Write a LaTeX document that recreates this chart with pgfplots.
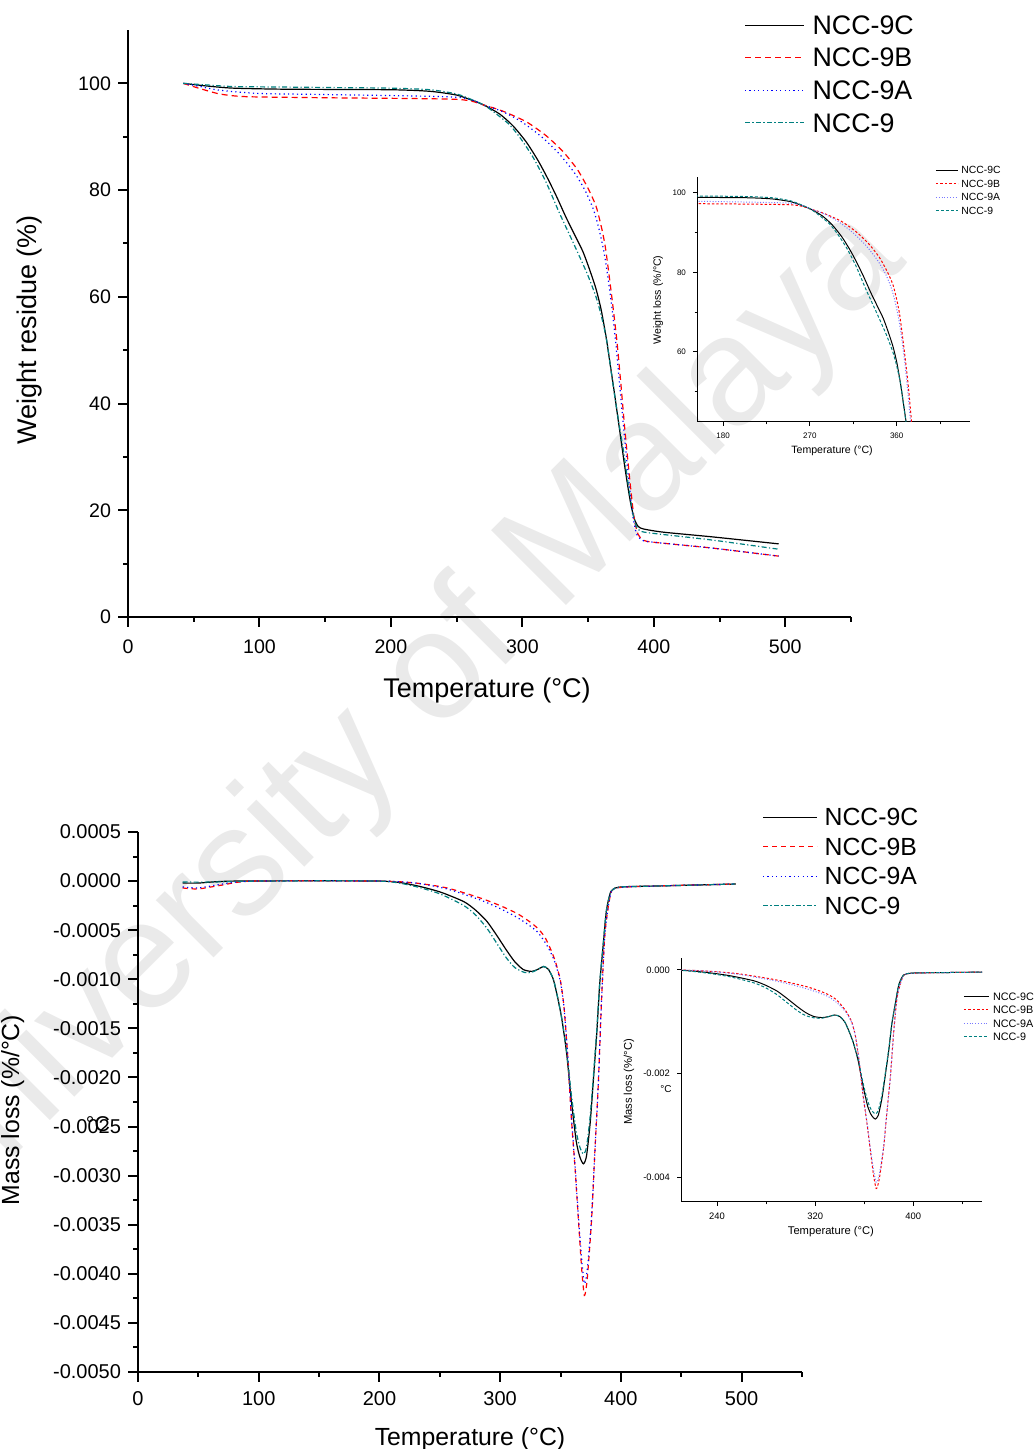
\documentclass[border=0pt]{standalone}
\usepackage{fontspec}
\setmainfont{Liberation Sans}
\usepackage{pgfplots}
\usepackage{pgfplotstable}
\pgfplotsset{compat=1.18}
\definecolor{ncteal}{RGB}{0,128,128}
\definecolor{ncred}{RGB}{255,0,0}
\definecolor{ncblue}{RGB}{0,0,255}
\definecolor{nclblue}{RGB}{120,120,255}
\definecolor{wm}{RGB}{234,234,234}

\pgfplotstableread{
x y
42 100
60 99.5
80 99.1
120 98.9
200 98.8
230 98.5
250 97.8
262 96.8
271 95.9
283 94.2
293 92.0
303 89.0
312 85.5
319 82.3
326 78.8
333 75.0
340 71.5
346 68.5
351 65.2
356 61.5
360 57.5
364 52.0
367 47.0
370 42.0
374 35.0
378 28.0
382 21.8
385 18.5
388 17.0
392 16.5
407 15.9
445 15.0
495 13.7
}\tgaC
\pgfplotstableread{
x y
42 100
55 99.0
70 98.0
90 97.5
150 97.3
250 97.0
271 95.9
285 94.8
303 92.8
318 90.2
331 87.2
342 83.8
350 80.3
356 77.0
360 73.2
363 69.5
366 64.0
369 58.0
372 51.5
375 43.5
378 35.0
382 25.0
385 18.5
388 15.5
392 14.4
400 14.0
445 12.9
495 11.4
}\tgaB
\pgfplotstableread{
x y
42 100
55 99.4
70 98.7
100 98.1
150 97.9
250 97.4
271 95.9
285 94.7
300 92.7
315 89.9
328 86.8
340 83.1
348 79.8
354 76.4
358 73.0
362 68.5
365 63.8
368 58.2
371 51.5
374 43.5
377 35.5
381 25.5
384 19.0
387 15.5
392 14.3
400 14.0
445 12.9
495 11.4
}\tgaA
\pgfplotstableread{
x y
42 100
60 99.7
80 99.4
120 99.3
160 99.2
200 99.1
230 98.8
250 98.0
262 96.9
271 95.9
280 94.3
290 92.3
298 89.9
308 86.2
318 81.5
328 75.8
338 70.5
349 64.5
356 60.0
360 56.5
364 52.0
369 43.5
373 37.0
377 31.0
381 24.0
384 19.5
387 16.8
391 16.0
402 15.6
445 14.4
495 12.7
}\tgaN

\pgfplotstableread{
x y
37 -0.00002
50 -0.00002
80 0
200 0
228 -0.00004
250 -0.00011
270 -0.00021
280 -0.00030
289 -0.00041
297 -0.00055
305 -0.00070
312 -0.00082
319 -0.00090
326 -0.00092
331 -0.00090
336 -0.00087
340 -0.00090
344 -0.00100
347.5 -0.00118
351 -0.00140
355 -0.00175
359 -0.00224
363 -0.00265
366 -0.00281
369 -0.00288
371.5 -0.00280
374.5 -0.00247
377 -0.00206
380 -0.00155
382.5 -0.00104
385.5 -0.00063
388 -0.00030
392 -0.00010
400 -0.00006
430 -0.00005
495 -0.00003
}\dtgC
\pgfplotstableread{
x y
37 -0.00007
50 -0.00008
70 -0.00004
95 0
200 0
230 -0.00002
256 -0.00007
283 -0.00017
300 -0.00025
314 -0.00033
324 -0.00041
331 -0.00048
337 -0.00057
342 -0.00070
346 -0.00083
350 -0.00102
353 -0.00130
356 -0.00180
359 -0.00242
362 -0.00292
364.7 -0.00343
367.5 -0.00395
369.7 -0.00422
371.5 -0.00412
373 -0.00392
375.8 -0.00343
378.5 -0.00274
381.3 -0.00206
384 -0.00120
386.8 -0.00053
391 -0.00016
396 -0.00007
430 -0.00005
495 -0.00003
}\dtgB
\pgfplotstableread{
x y
37 -0.00006
50 -0.00007
70 -0.00003
95 0
200 0
230 -0.00002
256 -0.00008
283 -0.00019
300 -0.00028
314 -0.00037
324 -0.00045
331 -0.00052
337 -0.00062
342 -0.00073
346 -0.00085
350 -0.00103
353 -0.00130
356 -0.00178
359 -0.00240
362 -0.00290
364.7 -0.00340
367.5 -0.00385
369.7 -0.00410
371.5 -0.00402
373 -0.00385
375.8 -0.00340
378.5 -0.00274
381.3 -0.00206
384 -0.00120
386.8 -0.00053
391 -0.00016
396 -0.00007
430 -0.00005
495 -0.00003
}\dtgA
\pgfplotstableread{
x y
37 -0.00001
60 -0.00001
100 0
200 0
228 -0.00005
250 -0.00013
270 -0.00025
280 -0.00035
289 -0.00048
297 -0.00063
305 -0.00078
312 -0.00088
320 -0.00093
326 -0.00093
331 -0.00090
336 -0.00087
340 -0.00090
344 -0.00100
347.5 -0.00118
351 -0.00140
355 -0.00173
359 -0.00218
363 -0.00255
366 -0.00271
369 -0.00278
371.5 -0.00271
374.5 -0.00240
377 -0.00202
380 -0.00152
382.5 -0.00103
385.5 -0.00062
388 -0.00030
392 -0.00010
400 -0.00006
430 -0.00005
495 -0.00003
}\dtgN

\pgfplotsset{
  mainstyle/.style={
    scale only axis, anchor=south west,
    axis lines=left, axis line style={-, line width=1pt},
    tick style={black, line width=1pt},
    tick align=outside, major tick length=5pt, minor tick length=2.5pt,
    /pgf/number format/assume math mode=true,
    clip=true,
  },
  insetstyle/.style={
    scale only axis, anchor=south west,
    axis lines=left, axis line style={-, line width=0.5pt},
    tick style={black, line width=0.5pt},
    tick align=outside, major tick length=2pt, minor tick length=1.2pt,
    /pgf/number format/assume math mode=true,
    clip=true,
  },
}

\begin{document}
\begin{tikzpicture}
\useasboundingbox (0,0) rectangle (517pt,724.5pt);
\node[rotate=45, text=wm, font=\fontsize{77}{80}\selectfont] at (195pt,362pt) {University of Malaya};

% ---------- top main ----------
\begin{axis}[mainstyle,
  at={(64pt,416pt)}, width=361.5pt, height=293.5pt,
  xmin=0, xmax=550, ymin=0, ymax=110,
  xtick={0,100,...,500}, minor xtick={50,150,...,550},
  ytick={0,20,...,100}, minor ytick={10,30,...,90},
  tick label style={font=\fontsize{9.8}{11}\selectfont},
  xticklabel style={yshift=-3pt},
  xlabel={Temperature (°C)}, ylabel={Weight residue (\%)},
  label style={font=\fontsize{13.5}{15}\selectfont},
  xlabel style={at={(axis description cs:0.4965,-0.1363)}, anchor=base},
  ylabel style={at={(axis description cs:-0.1272,0.489)}, anchor=base},
  legend style={at={(0.852,1.0249)}, anchor=north west, draw=none, fill=none, inner sep=0pt,
    font=\fontsize{13.4}{15}\selectfont, row sep=6.9pt,
    nodes={inner sep=0pt, text depth=0pt},
    /tikz/every odd column/.append style={column sep=4pt}},
  legend cell align=left,
  legend image code/.code={\draw[#1] (0pt,0pt) -- (29.5pt,0pt);},
]
\addplot[black, line width=0.6pt, smooth, tension=0.4] table[x=x,y=y] {\tgaC};
\addlegendentry{NCC-9C}
\addplot[ncred, line width=0.6pt, dash pattern=on 3pt off 2pt, smooth, tension=0.4] table[x=x,y=y] {\tgaB};
\addlegendentry{NCC-9B}
\addplot[ncblue, line width=0.6pt, dash pattern=on 0.6pt off 1.6pt, smooth, tension=0.4] table[x=x,y=y] {\tgaA};
\addlegendentry{NCC-9A}
\addplot[ncteal, line width=0.6pt, dash pattern=on 2.5pt off 1.2pt on 0.6pt off 1.2pt, smooth, tension=0.4] table[x=x,y=y] {\tgaN};
\addlegendentry{NCC-9}
\end{axis}

% ---------- top inset ----------
\begin{axis}[insetstyle,
  at={(348.5pt,513.5pt)}, width=136.5pt, height=122.5pt,
  xmin=153, xmax=436, ymin=42.4, ymax=104,
  xtick={180,270,360}, minor xtick={225,315,405},
  ytick={60,80,100}, minor ytick={50,70,90},
  tick label style={font=\fontsize{4}{5}\selectfont},
  xlabel={Temperature (°C)}, ylabel={Weight loss (\%/°C)},
  label style={font=\fontsize{5.3}{6}\selectfont},
  xlabel style={at={(axis description cs:0.4945,-0.129)}, anchor=base},
  ylabel style={at={(axis description cs:-0.132,0.498)}, anchor=base},
  legend style={at={(0.872,1.0437)}, anchor=north west, draw=none, fill=none, inner sep=0pt,
    font=\fontsize{5.2}{6}\selectfont, row sep=3.1pt,
    nodes={inner sep=0pt, text depth=0pt},
    /tikz/every odd column/.append style={column sep=1.5pt}},
  legend cell align=left,
  legend image code/.code={\draw[#1] (0pt,0pt) -- (11pt,0pt);},
]
\addplot[black, line width=0.5pt, smooth, tension=0.4] table[x=x,y=y] {\tgaC};
\addlegendentry{NCC-9C}
\addplot[ncred, line width=0.5pt, dash pattern=on 1.2pt off 1pt, smooth, tension=0.4] table[x=x,y=y] {\tgaB};
\addlegendentry{NCC-9B}
\addplot[nclblue, line width=0.5pt, dash pattern=on 0.5pt off 0.9pt, smooth, tension=0.4] table[x=x,y=y] {\tgaA};
\addlegendentry{NCC-9A}
\addplot[ncteal, line width=0.5pt, dash pattern=on 1.5pt off 1pt, smooth, tension=0.4] table[x=x,y=y] {\tgaN};
\addlegendentry{NCC-9}
\end{axis}

% ---------- bottom main ----------
\begin{axis}[mainstyle,
  at={(69pt,38.5pt)}, width=332pt, height=270pt,
  xmin=0, xmax=550, ymin=-0.005, ymax=0.0005,
  xtick={0,100,...,500}, minor xtick={50,150,...,550},
  ytick={-0.005,-0.0045,-0.004,-0.0035,-0.003,-0.0025,-0.002,-0.0015,-0.001,-0.0005,0,0.0005},
  minor ytick={-0.00475,-0.00425,-0.00375,-0.00325,-0.00275,-0.00225,-0.00175,-0.00125,-0.00075,-0.00025,0.00025},
  scaled y ticks=false,
  yticklabel style={/pgf/number format/.cd, fixed, fixed zerofill, precision=4},
  tick label style={font=\fontsize{10}{11}\selectfont},
  xticklabel style={yshift=-1pt},
  xlabel={Temperature (°C)}, ylabel={Mass loss (\%/°C)},
  label style={font=\fontsize{12.4}{14}\selectfont},
  xlabel style={at={(axis description cs:0.5,-0.1352)}, anchor=base},
  ylabel style={at={(axis description cs:-0.1792,0.485)}, anchor=base},
  legend style={at={(0.9398,1.0443)}, anchor=north west, draw=none, fill=none, inner sep=0pt,
    font=\fontsize{12.4}{14}\selectfont, row sep=6.1pt,
    nodes={inner sep=0pt, text depth=0pt},
    /tikz/every odd column/.append style={column sep=3.5pt}},
  legend cell align=left,
  legend image code/.code={\draw[#1] (0pt,0pt) -- (27pt,0pt);},
]
\addplot[black, line width=0.6pt, smooth, tension=0.4] table[x=x,y=y] {\dtgC};
\addlegendentry{NCC-9C}
\addplot[ncred, line width=0.6pt, dash pattern=on 2.5pt off 2pt, smooth, tension=0.4] table[x=x,y=y] {\dtgB};
\addlegendentry{NCC-9B}
\addplot[ncblue, line width=0.6pt, dash pattern=on 0.6pt off 1.6pt, smooth, tension=0.4] table[x=x,y=y] {\dtgA};
\addlegendentry{NCC-9A}
\addplot[ncteal, line width=0.6pt, dash pattern=on 2.5pt off 1.2pt on 0.6pt off 1.2pt, smooth, tension=0.4] table[x=x,y=y] {\dtgN};
\addlegendentry{NCC-9}
\end{axis}

% ---------- bottom inset ----------
\begin{axis}[insetstyle,
  at={(340.5pt,123.5pt)}, width=150.5pt, height=122pt,
  xmin=210.6, xmax=456, ymin=-0.00448, ymax=0.00023,
  xtick={240,320,400}, minor xtick={280,360,440},
  ytick={-0.004,-0.002,0},
  scaled y ticks=false,
  yticklabel style={/pgf/number format/.cd, fixed, fixed zerofill, precision=3},
  tick label style={font=\fontsize{4.7}{5}\selectfont},
  xlabel={Temperature (°C)}, ylabel={Mass loss (\%/°C)},
  label style={font=\fontsize{5.6}{6}\selectfont},
  xlabel style={at={(axis description cs:0.498,-0.135)}, anchor=base},
  ylabel style={at={(axis description cs:-0.163,0.492)}, anchor=base},
  legend style={at={(0.937,0.860)}, anchor=north west, draw=none, fill=none, inner sep=0pt,
    font=\fontsize{5.4}{6}\selectfont, row sep=3pt,
    nodes={inner sep=0pt, text depth=0pt},
    /tikz/every odd column/.append style={column sep=1.8pt}},
  legend cell align=left,
  legend image code/.code={\draw[#1] (0pt,0pt) -- (12.5pt,0pt);},
]
\addplot[black, line width=0.5pt, smooth, tension=0.4] table[x=x,y=y] {\dtgC};
\addlegendentry{NCC-9C}
\addplot[ncred, line width=0.5pt, dash pattern=on 1.2pt off 1pt, smooth, tension=0.4] table[x=x,y=y] {\dtgB};
\addlegendentry{NCC-9B}
\addplot[nclblue, line width=0.5pt, dash pattern=on 0.5pt off 0.9pt, smooth, tension=0.4] table[x=x,y=y] {\dtgA};
\addlegendentry{NCC-9A}
\addplot[ncteal, line width=0.5pt, dash pattern=on 1.5pt off 1pt, smooth, tension=0.4] table[x=x,y=y] {\dtgN};
\addlegendentry{NCC-9}
\end{axis}

\node[font=\fontsize{10.7}{12}\selectfont] at (49pt,162.5pt) {°C};
\node[font=\fontsize{5}{6}\selectfont] at (333pt,180pt) {°C};
\end{tikzpicture}
\end{document}
